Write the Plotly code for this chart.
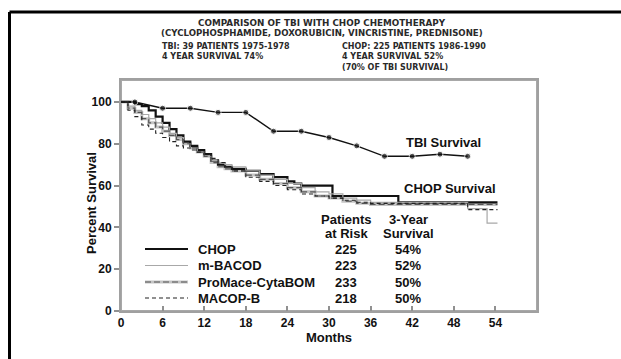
import plotly.graph_objects as go

# TBI cohort (1975-1978), survival at follow-up visits
tbi_months = [0, 2, 6, 10, 14, 18, 22, 26, 30, 34, 38, 42, 46, 50]
tbi_surv = [100, 100, 97, 97, 95, 95, 86, 86, 83, 79, 74, 74, 75, 74]

# Kaplan-Meier curves for the four chemotherapy regimens
chop_months = [0, 1, 2, 3, 4, 5, 6, 7, 8, 9, 10, 11, 12, 13, 14, 15, 16, 18, 20, 22, 24, 25, 26, 30.5, 40, 54.3]
chop_surv = [100, 100, 99, 98, 96, 93, 90, 87, 84, 81, 79, 77, 75, 72, 70, 69, 68, 67, 65.5, 64, 62, 61, 60, 55, 52, 52]

mbacod_months = [0, 1, 2, 3, 4, 5, 6, 7, 8, 9, 10, 11, 12, 13, 14, 15, 16, 18, 20, 22, 24, 26, 28, 30, 32, 34, 36, 50, 52.8, 54.3]
mbacod_surv = [100, 98, 96, 94, 92, 90, 88, 85, 83, 80, 78, 76, 74, 72, 71, 70, 69, 67, 65, 63, 61, 59, 57, 56, 54, 53, 52, 49, 42, 42]

promace_months = [0, 1, 2, 3, 4, 5, 6, 7, 8, 9, 10, 11, 12, 13, 14, 15, 16, 18, 20, 22, 24, 26, 28, 30, 32, 34, 36, 54.3]
promace_surv = [100, 97, 95, 92, 90, 88, 86, 84, 82, 80, 78, 76, 74, 71, 69, 68, 67, 65, 63, 61, 59, 57, 55, 54, 52.5, 51.5, 51, 51]

macopb_months = [0, 1, 2, 3, 4, 5, 6, 7, 8, 9, 10, 11, 12, 13, 14, 15, 16, 18, 20, 22, 24, 26, 28, 30, 32, 34, 36, 50, 54.3]
macopb_surv = [100, 96, 93, 89, 87, 85, 83, 81, 79, 78, 77, 76, 75, 73, 71, 69, 67, 64, 62, 60, 58, 56, 55, 54, 53, 52, 51.5, 48.5, 48.5]

regimens = ["CHOP", "m-BACOD", "ProMace-CytaBOM", "MACOP-B"]
patients_at_risk = [225, 223, 233, 218]
three_year_survival = [54, 52, 50, 50]

x_ticks = [0, 6, 12, 18, 24, 30, 36, 42, 48, 54]
y_ticks = [0, 20, 40, 60, 80, 100]

FONT = "Liberation Sans, Arial, sans-serif"
HEAD = "DejaVu Sans, sans-serif"

# plot area in pixels: left 121, top 80, width 416, height 231
L, T, W, H = 121, 80, 416, 231


def px(x):
    return (x - L) / W


def py(y):
    return (T + H - y) / H


styles = {
    "CHOP": dict(color="#111111", width=2.2, dash="solid"),
    "m-BACOD": dict(color="#a8a8a8", width=1.2, dash="solid"),
    "ProMace-CytaBOM": dict(color="#555555", width=1.2, dash="6px,3px"),
    "MACOP-B": dict(color="#222222", width=1.1, dash="4px,3px"),
}

fig = go.Figure()

curves = [
    ("CHOP", chop_months, chop_surv),
    ("m-BACOD", mbacod_months, mbacod_surv),
    ("ProMace-CytaBOM", promace_months, promace_surv),
    ("MACOP-B", macopb_months, macopb_surv),
]

# ProMace-CytaBOM is a grey band with darker dashes on top
fig.add_trace(go.Scatter(x=promace_months, y=promace_surv, mode="lines", line_shape="hv",
                         line=dict(color="#c4c4c4", width=3), showlegend=False, hoverinfo="skip"))
for name, xs, ys in curves:
    fig.add_trace(go.Scatter(x=xs, y=ys, mode="lines", line_shape="hv", name=name,
                             line=styles[name], showlegend=False))

fig.add_trace(go.Scatter(
    x=tbi_months, y=tbi_surv, mode="lines+markers", name="TBI",
    line=dict(color="#111111", width=1.4),
    marker=dict(color="#111111", size=[0] + [6] * (len(tbi_months) - 1), symbol="circle"),
    showlegend=False))

annotations = []
shapes = []


def note(text, x, y, size=13, family=FONT, xanchor="center", color="#111111", **kw):
    font = dict(family=family, size=size, color=color, weight="bold")
    annotations.append(dict(text=text, xref="paper", yref="paper", x=px(x), y=py(y),
                            xanchor=xanchor, yanchor="middle", showarrow=False, font=font, **kw))


# header text
note("COMPARISON OF TBI WITH CHOP CHEMOTHERAPY", 322, 23, size=8.8, family=HEAD, color="#2a2a2a")
note("(CYCLOPHOSPHAMIDE, DOXORUBICIN, VINCRISTINE, PREDNISONE)", 322, 33, size=8.6, family=HEAD,
     color="#2a2a2a")
left_block = ["TBI: 39 PATIENTS 1975-1978", "4 YEAR SURVIVAL 74%"]
right_block = ["CHOP: 225 PATIENTS 1986-1990", "4 YEAR SURVIVAL 52%", "(70% OF TBI SURVIVAL)"]
rows_y = [46, 56.5, 67]
for i, t in enumerate(left_block):
    note(t, 160, rows_y[i], size=8, family=HEAD, xanchor="left", color="#2a2a2a")
for i, t in enumerate(right_block):
    note(t, 340, rows_y[i], size=8, family=HEAD, xanchor="left", color="#2a2a2a")

# curve labels
note("TBI Survival", 443, 142)
note("CHOP Survival", 450, 188)

# y-axis title
note("Percent Survival", 91, 203, textangle=-90)

# legend table
col_pat, col_surv = 346, 408
note("Patients", col_pat, 219)
note("at Risk", col_pat, 233)
note("3-Year", col_surv, 219)
note("Survival", col_surv, 233)

row_px = [249, 265.5, 282, 298]
for i, name in enumerate(regimens):
    yp = py(row_px[i])
    x0, x1 = px(145), px(188)
    if name == "ProMace-CytaBOM":
        shapes.append(dict(type="line", xref="paper", yref="paper", x0=x0, x1=x1, y0=yp, y1=yp,
                           line=dict(color="#c4c4c4", width=3)))
    shapes.append(dict(type="line", xref="paper", yref="paper", x0=x0, x1=x1, y0=yp, y1=yp,
                       line=styles[name]))
    note(name, 196, row_px[i], xanchor="left")
    note(str(patients_at_risk[i]), col_pat, row_px[i])
    note(f"{three_year_survival[i]}%", col_surv, row_px[i])

# plot frame
shapes.append(dict(type="rect", xref="paper", yref="paper", x0=0, x1=1, y0=0, y1=1,
                   line=dict(color="#a8a8a8", width=2), layer="below"))

# outer frame (top and left edges)
fx, fy = px(9.5), py(12)
shapes.append(dict(type="line", xref="paper", yref="paper", x0=fx, x1=1.3, y0=fy, y1=fy,
                   line=dict(color="#000000", width=3)))
shapes.append(dict(type="line", xref="paper", yref="paper", x0=fx, x1=fx, y0=fy, y1=-0.3,
                   line=dict(color="#000000", width=3)))

axis_common = dict(showgrid=False, zeroline=False, showline=True, linecolor="#a0a0a0",
                   linewidth=2, mirror=True, tickcolor="#909090", tickwidth=1.5, ticklen=5,
                   tickfont=dict(family=FONT, size=12, color="#111111", weight="bold"))

fig.update_layout(
    width=621, height=359,
    margin=dict(l=L, r=621 - L - W, t=T, b=359 - T - H),
    paper_bgcolor="white", plot_bgcolor="white",
    xaxis=dict(range=[0, 60], tickvals=x_ticks, ticks="inside",
               title=dict(text="Months", font=dict(family=FONT, size=13, color="#111111", weight="bold"),
                          standoff=2),
               **axis_common),
    yaxis=dict(range=[0, 110.5], tickvals=y_ticks, ticks="outside", **axis_common),
    annotations=annotations,
    shapes=shapes,
)

fig.write_html("out.html")
